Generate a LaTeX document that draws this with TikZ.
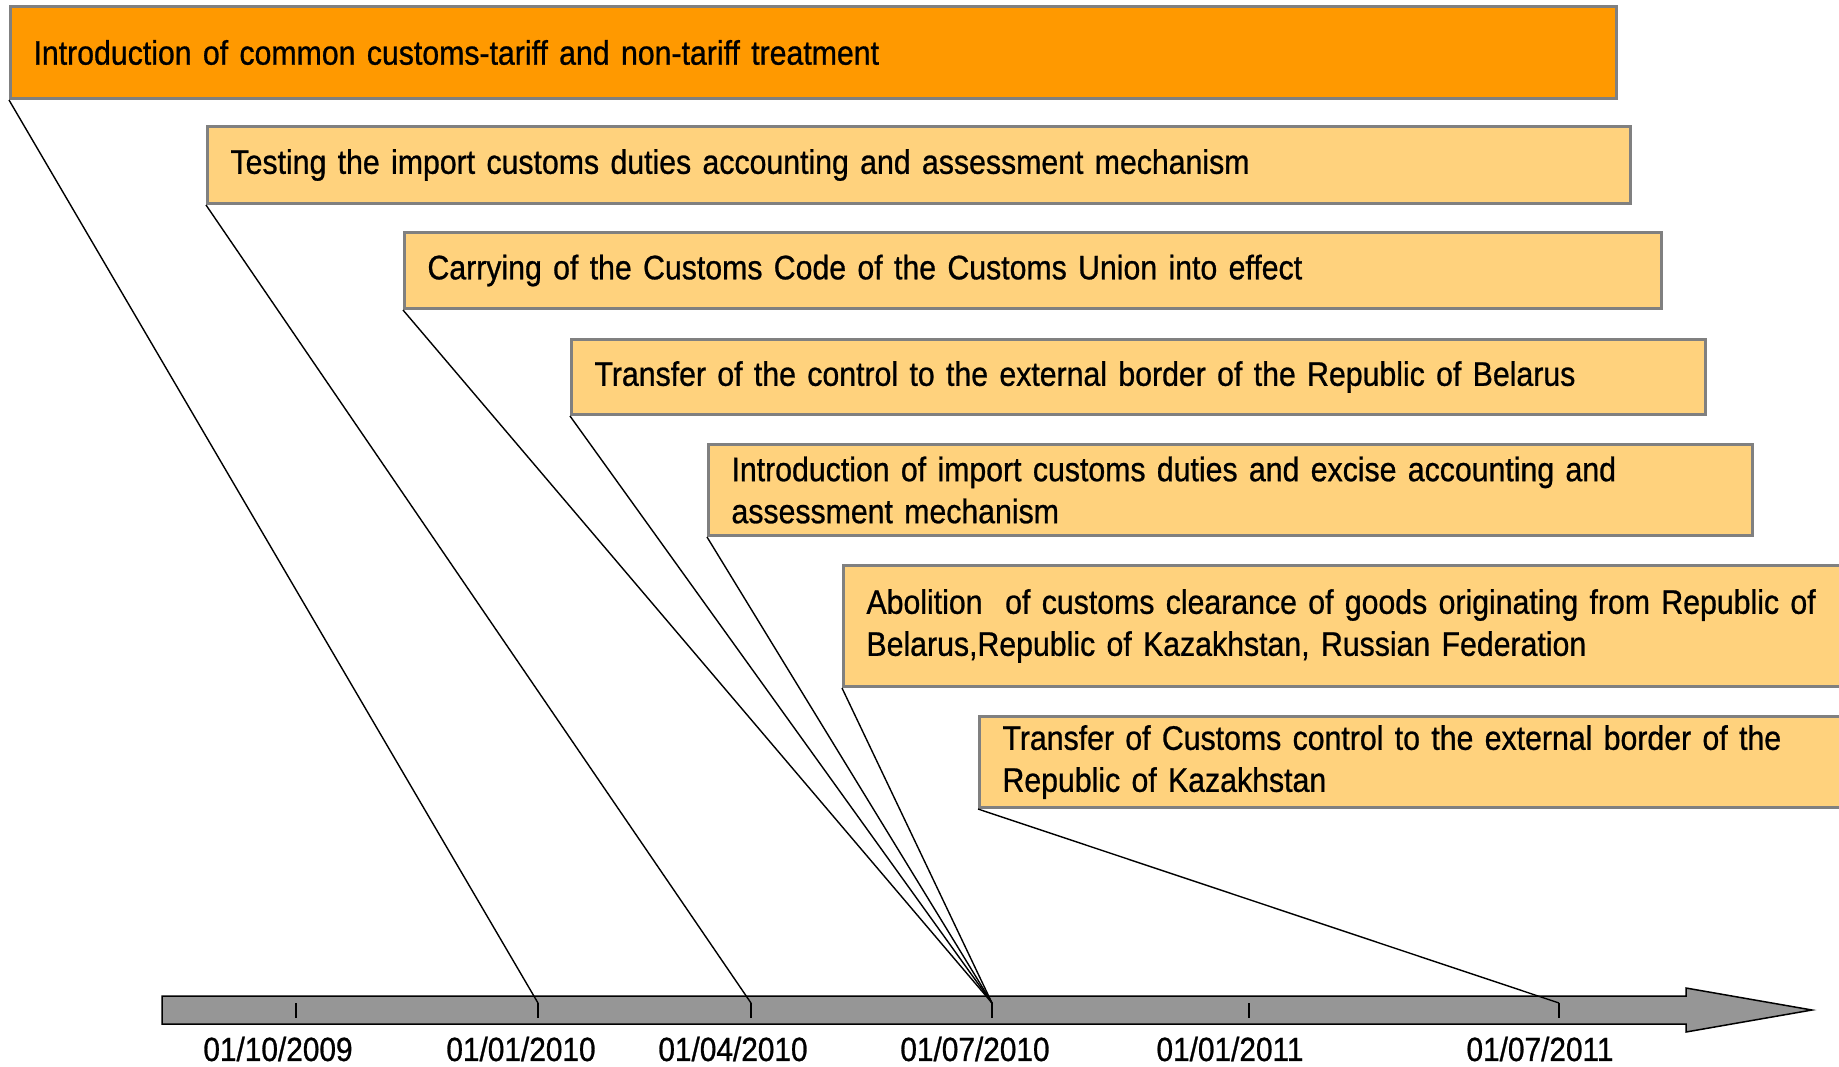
\documentclass[tikz,border=0pt]{standalone}
\usepackage{fontspec}
\setmainfont{Liberation Sans}[FakeStretch=0.89, FakeBold=0.8]
\usepackage{xcolor}
\usepackage{tikz}
\usetikzlibrary{positioning}
\definecolor{tariffcolor}{RGB}{255, 153, 0}
\definecolor{stagecolor}{RGB}{255, 210, 125}
\definecolor{framecolor}{RGB}{128, 128, 128}
\definecolor{axiscolor}{RGB}{150, 150, 150}

\begin{document}
\begin{tikzpicture}[
    x=1pt, y=-1pt,
    event/.style={draw=framecolor, line width=3pt, fill=stagecolor, anchor=north west,
        align=left, inner xsep=23pt, inner ysep=0pt,
        font=\fontsize{34}{42}\selectfont},
    link/.style={line width=1.4pt},
    datelabel/.style={inner sep=0pt, font=\fontsize{33.5}{36}\selectfont}
]
    \useasboundingbox (0,0) rectangle (1839,1066);

    % Time axis
    \draw[fill=axiscolor, line width=1.5pt] (162,996) -- (1686,996) -- (1686,988) -- (1812,1010)
        -- (1686,1032) -- (1686,1024) -- (162,1024) -- cycle;
    \foreach \x/\name in {296/t1, 538/t2, 751/t3, 992/t4, 1249/t5, 1559/t6}
        \coordinate (\name) at (\x,1003);
    \foreach \name in {t1,t2,t3,t4,t5,t6}
        \draw[line width=1.5pt] (\name) -- ++(0,15);

    % Dates
    \node[datelabel] (d1) at (278,1049) {01/10/2009};
    \node[datelabel] (d2) at (521,1049) {01/01/2010};
    \node[datelabel] (d3) at (733,1049) {01/04/2010};
    \node[datelabel] (d4) at (975,1049) {01/07/2010};
    \node[datelabel] (d5) at (1230,1049) {01/01/2011};
    \node[datelabel] (d6) at (1540,1049) {01/07/2011};

    % Stages
    \node[event, fill=tariffcolor, text width=1560pt, minimum height=92pt] (tariff) at (9,5)
        {Introduction of common customs-tariff and non-tariff treatment};
    \node[event, text width=1377pt, minimum height=77pt] (testing) at (206,125)
        {Testing the import customs duties accounting and assessment mechanism};
    \node[event, text width=1211pt, minimum height=76pt] (code) at (403,231)
        {Carrying of the Customs Code of the Customs Union into effect};
    \node[event, text width=1088pt, minimum height=75pt] (belarus) at (570,338)
        {Transfer of the control to the external border of the Republic of Belarus};
    \node[event, text width=998pt, minimum height=91pt] (duties) at (707,443)
        {Introduction of import customs duties and excise accounting and\\assessment mechanism};
    \node[event, text width=1000pt, minimum height=121pt] (abolition) at (842,564)
        {Abolition\ \ of customs clearance of goods originating from Republic of\\Belarus,Republic of Kazakhstan, Russian Federation};
    \node[event, text width=900pt, minimum height=91pt] (kazakh) at (978,715)
        {Transfer of Customs control to the external border of the\\Republic of Kazakhstan};

    % Links to the axis
    \draw[link] (tariff.south west) -- (t2);
    \draw[link] (testing.south west) -- (t3);
    \draw[link] (code.south west) -- (t4);
    \draw[link] (belarus.south west) -- (t4);
    \draw[link] (duties.south west) -- (t4);
    \draw[link] (abolition.south west) -- (t4);
    \draw[link] (kazakh.south west) -- (t6);
\end{tikzpicture}
\end{document}
